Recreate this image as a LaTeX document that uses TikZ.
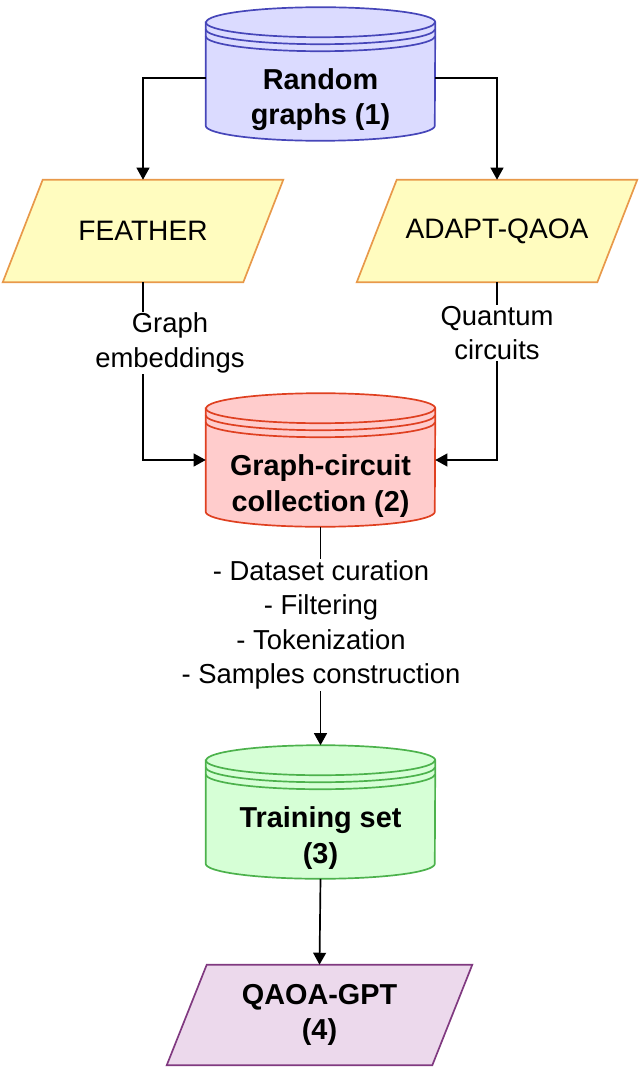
\documentclass[tikz,border=0pt]{standalone}
\usepackage{fontspec}
\setmainfont{Liberation Sans}
\usetikzlibrary{arrows.meta,positioning,calc,backgrounds}

% draw.io style data store behind a named node
\newcommand{\drawstore}[3]{%
  \path[fill=#2,draw=#3,line width=1.2pt]
    ($(#1.north west)+(0,15)$) -- ($(#1.south west)+(0,-15)$)
    arc[start angle=180,end angle=360,x radius=2.8625cm,y radius=0.375cm]
    -- ($(#1.north east)+(0,15)$)
    arc[start angle=0,end angle=180,x radius=2.8625cm,y radius=0.375cm] -- cycle;
  \foreach \d in {15,22,29}
    \draw[draw=#3,line width=1.2pt] ($(#1.north west)+(0,\d)$)
      arc[start angle=180,end angle=360,x radius=2.8625cm,y radius=0.375cm];
  \node[font=\fontsize{20.5}{25}\selectfont\bfseries,align=center] at ($(#1.center)+(0,26)$) {\storetext};}

% parallelogram behind a named node
\newcommand{\drawio}[3]{%
  \begin{scope}[on background layer]
    \path[fill=#2,draw=#3,line width=1.2pt]
      (#1.south west) -- ($(#1.north west)+(40,0)$) -- (#1.north east)
      -- ($(#1.south east)+(-40,0)$) -- cycle;
  \end{scope}}

\begin{document}
\begin{tikzpicture}[x=0.025cm,y=-0.025cm,
    >={Triangle[width=3.2mm,length=3mm]},
    store/.style = {draw=none, minimum width=229*0.025cm, minimum height=133*0.025cm},
    io/.style = {draw=none, minimum height=102*0.025cm, align=center,
                 font=\fontsize{20}{24.5}\selectfont},
    link/.style = {->, line width=1.2pt},
    lbl/.style = {fill=white, align=center, font=\fontsize{19.5}{24.5}\selectfont, inner sep=1pt}]
  \useasboundingbox (0,0) rectangle (640,1069);

  \node (rg) [store] at (320.5,74) {};
  \node (gc) [store] at (320.5,460) {};
  \node (ts) [store] at (320.5,812) {};
  \coordinate (top) at (0,78);
  \coordinate (mid) at (0,460);
  \def\storetext{Random\\graphs (1)}\drawstore{rg}{blue!14}{blue!45!gray}
  \def\storetext{Graph-circuit\\collection (2)}\drawstore{gc}{red!20}{red!50!brown}
  \def\storetext{Training set\\(3)}\drawstore{ts}{green!16}{green!40!gray}

  \node (feather) [io, minimum width=280*0.025cm] at (143,231) {FEATHER};
  \node (adapt) [io, minimum width=280*0.025cm] at (497,231) {ADAPT-QAOA};
  \node (gpt) [io, minimum width=305*0.025cm, minimum height=100*0.025cm,
               font=\fontsize{20.5}{25}\selectfont\bfseries] at (319.5,1015) {QAOA-GPT\\(4)};
  \drawio{feather}{yellow!25}{orange!55!brown!80}
  \drawio{adapt}{yellow!25}{orange!55!brown!80}
  \drawio{gpt}{violet!15}{violet!55!gray}

  \draw[link] (rg.west |- top) -| (feather.north);
  \draw[link] (rg.east |- top) -| (adapt.north);
  \draw[link] (feather.south) |- (gc.west |- mid);
  \draw[link] (adapt.south) |- (gc.east |- mid);
  \draw[link] (gc.south) -- (ts.north);
  \draw[link] (ts.south) -- (gpt.north);

  \node[lbl] at (170,343) {Graph\\embeddings};
  \node[lbl] at (497,333) {Quantum\\circuits};
  \node[lbl] at (321,625) {- Dataset curation\\- Filtering\\- Tokenization\\- Samples construction};
\end{tikzpicture}
\end{document}
